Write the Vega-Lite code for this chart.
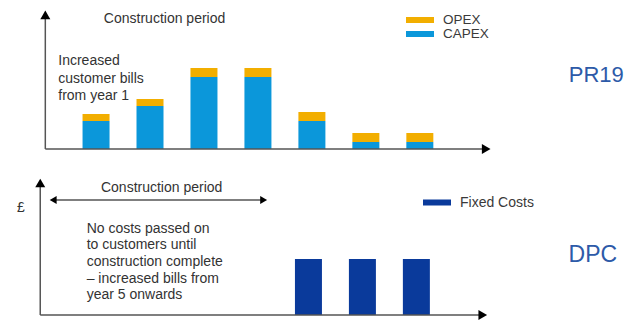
{
  "$schema": "https://vega.github.io/schema/vega-lite/v6.json",
  "padding": 0,
  "spacing": 0,
  "background": "white",
  "config": {"view": {"stroke": null}, "font": "Liberation Sans", "concat": {"spacing": 0}},
  "resolve": {
    "scale": {"color": "independent", "x": "independent", "y": "independent", "shape": "independent"},
    "legend": {"color": "independent"}
  },
  "vconcat": [
    {
      "width": 634,
      "height": 160,
      "layer": [
        {
          "data": {"values": [
            {"year": 1, "cost": "CAPEX", "amount": 28}, {"year": 1, "cost": "OPEX", "amount": 7},
            {"year": 2, "cost": "CAPEX", "amount": 43}, {"year": 2, "cost": "OPEX", "amount": 7},
            {"year": 3, "cost": "CAPEX", "amount": 72}, {"year": 3, "cost": "OPEX", "amount": 9},
            {"year": 4, "cost": "CAPEX", "amount": 72}, {"year": 4, "cost": "OPEX", "amount": 9},
            {"year": 5, "cost": "CAPEX", "amount": 28}, {"year": 5, "cost": "OPEX", "amount": 9},
            {"year": 6, "cost": "CAPEX", "amount": 7}, {"year": 6, "cost": "OPEX", "amount": 9},
            {"year": 7, "cost": "CAPEX", "amount": 7}, {"year": 7, "cost": "OPEX", "amount": 9}
          ]},
          "mark": {"type": "bar", "width": 27},
          "encoding": {
            "x": {"field": "year", "type": "quantitative", "scale": {"domain": [-0.687, 10.876], "nice": false, "zero": false}, "axis": null},
            "y": {"field": "amount", "type": "quantitative", "stack": "zero", "scale": {"domain": [-11, 149], "nice": false, "zero": false}, "axis": null},
            "order": {"field": "cost", "sort": "ascending"},
            "color": {
              "field": "cost", "type": "nominal",
              "scale": {"domain": ["OPEX", "CAPEX"], "range": ["#f2ae00", "#0b97da"]},
              "legend": {
                "title": null, "orient": "none", "legendX": 406, "legendY": 13,
                "symbolType": "M-1,-0.214H1V0.214H-1Z", "symbolSize": 784, "symbolStrokeWidth": 0,
                "symbolOpacity": 1, "clipHeight": 14, "rowPadding": 0, "labelOffset": 9,
                "labelFontSize": 13.5, "labelFont": "Liberation Sans", "labelColor": "#3a3a3a", "padding": 0
              }
            }
          }
        },
        {
          "data": {"values": [
            {"year": 0.06, "level": 0, "year2": 0.06, "level2": 133},
            {"year": 0.06, "level": 0, "year2": 8.2, "level2": 0}
          ]},
          "mark": {"type": "rule", "color": "#555555", "strokeWidth": 1.5},
          "encoding": {
            "x": {"field": "year", "type": "quantitative", "scale": {"domain": [-0.687, 10.876], "nice": false, "zero": false}, "axis": null},
            "x2": {"field": "year2"},
            "y": {"field": "level", "type": "quantitative", "scale": {"domain": [-11, 149], "nice": false, "zero": false}, "axis": null},
            "y2": {"field": "level2"}
          }
        },
        {
          "data": {"values": [
            {"year": 0.06, "level": 134.2, "direction": "up"},
            {"year": 8.23, "level": 0, "direction": "right"}
          ]},
          "mark": {"type": "point", "filled": true, "color": "#000000", "opacity": 1, "size": 100},
          "encoding": {
            "x": {"field": "year", "type": "quantitative", "scale": {"domain": [-0.687, 10.876], "nice": false, "zero": false}, "axis": null},
            "y": {"field": "level", "type": "quantitative", "scale": {"domain": [-11, 149], "nice": false, "zero": false}, "axis": null},
            "shape": {"field": "direction", "type": "nominal", "scale": {"domain": ["up", "right", "left"], "range": ["triangle-up", "triangle-right", "triangle-left"]}, "legend": null}
          }
        },
        {
          "data": {"values": [
            {"year": 2.27, "level": 130, "label": "Construction period"}
          ]},
          "mark": {"type": "text", "align": "center", "baseline": "middle", "fontSize": 14, "color": "#333333"},
          "encoding": {
            "x": {"field": "year", "type": "quantitative", "scale": {"domain": [-0.687, 10.876], "nice": false, "zero": false}, "axis": null},
            "y": {"field": "level", "type": "quantitative", "scale": {"domain": [-11, 149], "nice": false, "zero": false}, "axis": null},
            "text": {"field": "label", "type": "nominal"}
          }
        },
        {
          "data": {"values": [
            {"year": 0.3, "level": 84, "label": "Increased\ncustomer bills\nfrom year 1"}
          ]},
          "mark": {"type": "text", "align": "left", "baseline": "alphabetic", "fontSize": 14, "lineHeight": 17.5, "lineBreak": "\n", "color": "#333333"},
          "encoding": {
            "x": {"field": "year", "type": "quantitative", "scale": {"domain": [-0.687, 10.876], "nice": false, "zero": false}, "axis": null},
            "y": {"field": "level", "type": "quantitative", "scale": {"domain": [-11, 149], "nice": false, "zero": false}, "axis": null},
            "text": {"field": "label", "type": "nominal"}
          }
        },
        {
          "data": {"values": [
            {"year": 9.76, "level": 74, "label": "PR19"}
          ]},
          "mark": {"type": "text", "align": "left", "baseline": "middle", "fontSize": 22, "color": "#2d5aa8"},
          "encoding": {
            "x": {"field": "year", "type": "quantitative", "scale": {"domain": [-0.687, 10.876], "nice": false, "zero": false}, "axis": null},
            "y": {"field": "level", "type": "quantitative", "scale": {"domain": [-11, 149], "nice": false, "zero": false}, "axis": null},
            "text": {"field": "label", "type": "nominal"}
          }
        }
      ]
    },
    {
      "width": 634,
      "height": 162,
      "layer": [
        {
          "data": {"values": [
            {"year": 5, "cost": "Fixed Costs", "amount": 56},
            {"year": 6, "cost": "Fixed Costs", "amount": 56},
            {"year": 7, "cost": "Fixed Costs", "amount": 56}
          ]},
          "mark": {"type": "bar", "width": 27},
          "encoding": {
            "x": {"field": "year", "type": "quantitative", "scale": {"domain": [-0.623, 10.94], "nice": false, "zero": false}, "axis": null},
            "y": {"field": "amount", "type": "quantitative", "scale": {"domain": [-7, 155], "nice": false, "zero": false}, "axis": null},
            "color": {
              "field": "cost", "type": "nominal",
              "scale": {"domain": ["Fixed Costs"], "range": ["#0a3a9b"]},
              "legend": {
                "title": null, "orient": "none", "legendX": 423, "legendY": 35.5,
                "symbolType": "M-1,-0.214H1V0.214H-1Z", "symbolSize": 784, "symbolStrokeWidth": 0,
                "symbolOpacity": 1, "clipHeight": 14, "rowPadding": 0, "labelOffset": 9,
                "labelFontSize": 14, "labelFont": "Liberation Sans", "labelColor": "#3a3a3a", "padding": 0
              }
            }
          }
        },
        {
          "data": {"values": [
            {"year": 0.03, "level": 0, "year2": 0.03, "level2": 130},
            {"year": 0.03, "level": 0, "year2": 8.2, "level2": 0},
            {"year": 0.27, "level": 115, "year2": 4.17, "level2": 115}
          ]},
          "mark": {"type": "rule", "color": "#555555", "strokeWidth": 1.5},
          "encoding": {
            "x": {"field": "year", "type": "quantitative", "scale": {"domain": [-0.623, 10.94], "nice": false, "zero": false}, "axis": null},
            "x2": {"field": "year2"},
            "y": {"field": "level", "type": "quantitative", "scale": {"domain": [-7, 155], "nice": false, "zero": false}, "axis": null},
            "y2": {"field": "level2"}
          }
        },
        {
          "data": {"values": [
            {"year": 0.03, "level": 132, "direction": "up"},
            {"year": 8.23, "level": 0, "direction": "right"}
          ]},
          "mark": {"type": "point", "filled": true, "color": "#000000", "opacity": 1, "size": 100},
          "encoding": {
            "x": {"field": "year", "type": "quantitative", "scale": {"domain": [-0.623, 10.94], "nice": false, "zero": false}, "axis": null},
            "y": {"field": "level", "type": "quantitative", "scale": {"domain": [-7, 155], "nice": false, "zero": false}, "axis": null},
            "shape": {"field": "direction", "type": "nominal", "scale": {"domain": ["up", "right", "left"], "range": ["triangle-up", "triangle-right", "triangle-left"]}, "legend": null}
          }
        },
        {
          "data": {"values": [
            {"year": 0.27, "level": 115, "direction": "left"},
            {"year": 4.17, "level": 115, "direction": "right"}
          ]},
          "mark": {"type": "point", "filled": true, "color": "#000000", "opacity": 1, "size": 64},
          "encoding": {
            "x": {"field": "year", "type": "quantitative", "scale": {"domain": [-0.623, 10.94], "nice": false, "zero": false}, "axis": null},
            "y": {"field": "level", "type": "quantitative", "scale": {"domain": [-7, 155], "nice": false, "zero": false}, "axis": null},
            "shape": {"field": "direction", "type": "nominal", "scale": {"domain": ["up", "right", "left"], "range": ["triangle-up", "triangle-right", "triangle-left"]}, "legend": null}
          }
        },
        {
          "data": {"values": [
            {"year": 2.28, "level": 127, "label": "Construction period"},
            {"year": -0.33, "level": 107, "label": "£"}
          ]},
          "mark": {"type": "text", "align": "center", "baseline": "middle", "fontSize": 14, "color": "#333333"},
          "encoding": {
            "x": {"field": "year", "type": "quantitative", "scale": {"domain": [-0.623, 10.94], "nice": false, "zero": false}, "axis": null},
            "y": {"field": "level", "type": "quantitative", "scale": {"domain": [-7, 155], "nice": false, "zero": false}, "axis": null},
            "text": {"field": "label", "type": "nominal"}
          }
        },
        {
          "data": {"values": [
            {"year": 0.89, "level": 82.3, "label": "No costs passed on\nto customers until\nconstruction complete\n– increased bills from\nyear 5 onwards"}
          ]},
          "mark": {"type": "text", "align": "left", "baseline": "alphabetic", "fontSize": 14, "lineHeight": 16.7, "lineBreak": "\n", "color": "#333333"},
          "encoding": {
            "x": {"field": "year", "type": "quantitative", "scale": {"domain": [-0.623, 10.94], "nice": false, "zero": false}, "axis": null},
            "y": {"field": "level", "type": "quantitative", "scale": {"domain": [-7, 155], "nice": false, "zero": false}, "axis": null},
            "text": {"field": "label", "type": "nominal"}
          }
        },
        {
          "data": {"values": [
            {"year": 9.82, "level": 60.5, "label": "DPC"}
          ]},
          "mark": {"type": "text", "align": "left", "baseline": "middle", "fontSize": 23, "color": "#2d5aa8"},
          "encoding": {
            "x": {"field": "year", "type": "quantitative", "scale": {"domain": [-0.623, 10.94], "nice": false, "zero": false}, "axis": null},
            "y": {"field": "level", "type": "quantitative", "scale": {"domain": [-7, 155], "nice": false, "zero": false}, "axis": null},
            "text": {"field": "label", "type": "nominal"}
          }
        }
      ]
    }
  ]
}
